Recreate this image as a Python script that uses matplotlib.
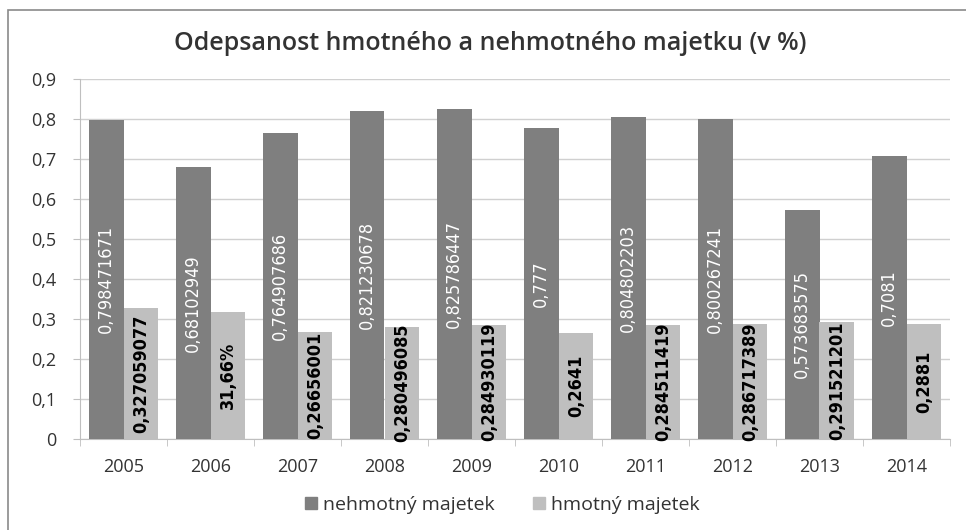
import numpy as np
import matplotlib.pyplot as plt
from matplotlib.patches import Rectangle, Patch

# data
years = ["2005", "2006", "2007", "2008", "2009", "2010", "2011", "2012", "2013", "2014"]
nehmotny = [0.798471671, 0.68102949, 0.764907686, 0.821230678, 0.825786447,
            0.777, 0.804802203, 0.800267241, 0.573683575, 0.7081]
hmotny = [0.327059077, 0.3166, 0.26656001, 0.280496085, 0.284930119,
          0.2641, 0.284511419, 0.286717389, 0.291521201, 0.2881]
nehmotny_labels = ["0,798471671", "0,68102949", "0,764907686", "0,821230678", "0,825786447",
                   "0,777", "0,804802203", "0,800267241", "0,573683575", "0,7081"]
hmotny_labels = ["0,327059077", "31,66%", "0,26656001", "0,280496085", "0,284930119",
                 "0,2641", "0,284511419", "0,286717389", "0,291521201", "0,2881"]

plt.rcParams['font.family'] = ['Open Sans', 'DejaVu Sans']

dark = "#7f7f7f"
light = "#bfbfbf"
txt = "#333333"

fig = plt.figure(figsize=(9.66, 5.30), dpi=100)
ax = fig.add_axes([80/966, 1-439/530, 870/966, 360/530])

x = np.arange(len(years))
w = 0.4
b1 = ax.bar(x - w/2, nehmotny, w, color=dark, zorder=3)
b2 = ax.bar(x + w/2, hmotny, w, color=light, zorder=3)

# labels inside bars
for rect, lab in zip(b1, nehmotny_labels):
    ax.text(rect.get_x() + rect.get_width()/2, rect.get_height()/2, lab,
            rotation=90, ha="center", va="center", color="white",
            fontsize=13, family="DejaVu Sans", fontstretch="condensed", zorder=4)
for rect, lab in zip(b2, hmotny_labels):
    ax.text(rect.get_x() + rect.get_width()/2, rect.get_height()/2, lab,
            rotation=90, ha="center", va="center", color="black",
            fontsize=13, family="DejaVu Sans", fontstretch="condensed",
            fontweight="bold", zorder=4)

ax.set_xlim(-0.5, len(years) - 0.5)
ax.set_ylim(0, 0.9)
ax.set_yticks(np.arange(0, 0.91, 0.1))
ax.set_yticklabels(["0" if v == 0 else f"{v:.1f}".replace(".", ",") for v in np.arange(0, 0.91, 0.1)])
ax.set_xticks(x)
ax.set_xticklabels(years)
ax.set_xticks(np.arange(-0.5, len(years), 1), minor=True)
ax.tick_params(axis="x", which="major", length=0, pad=14, labelsize=13, labelcolor=txt)
ax.tick_params(axis="x", which="minor", length=5, color="#bfbfbf")
ax.tick_params(axis="y", length=5, color="#bfbfbf", labelsize=13, labelcolor=txt, pad=12)

ax.yaxis.grid(True, color="#d0d0d0", linewidth=1, zorder=0)
for s in ["top", "right"]:
    ax.spines[s].set_visible(False)
ax.spines["left"].set_color("#bfbfbf")
ax.spines["bottom"].set_color("#bfbfbf")

fig.text(0.507, 1-43/530, "Odepsanost hmotného a nehmotného majetku (v %)",
         ha="center", va="center", fontsize=18, color=txt, fontweight="semibold")

handles = [Patch(color=dark, label="nehmotný majetek"),
           Patch(color=light, label="hmotný majetek")]
fig.legend(handles=handles, loc="center", bbox_to_anchor=(0.52, 1-505/530), ncol=2,
           frameon=False, fontsize=14, handlelength=0.6, handleheight=0.6,
           handletextpad=0.3, columnspacing=2.0, labelcolor=txt)

# outer chart frame
fig.patches.append(Rectangle((8/966, -0.1), 1.2, 1 - 10/530 + 0.1, transform=fig.transFigure,
                             fill=False, edgecolor="#8a8a8a", linewidth=1.2))

fig.savefig("out.png", dpi=100)
